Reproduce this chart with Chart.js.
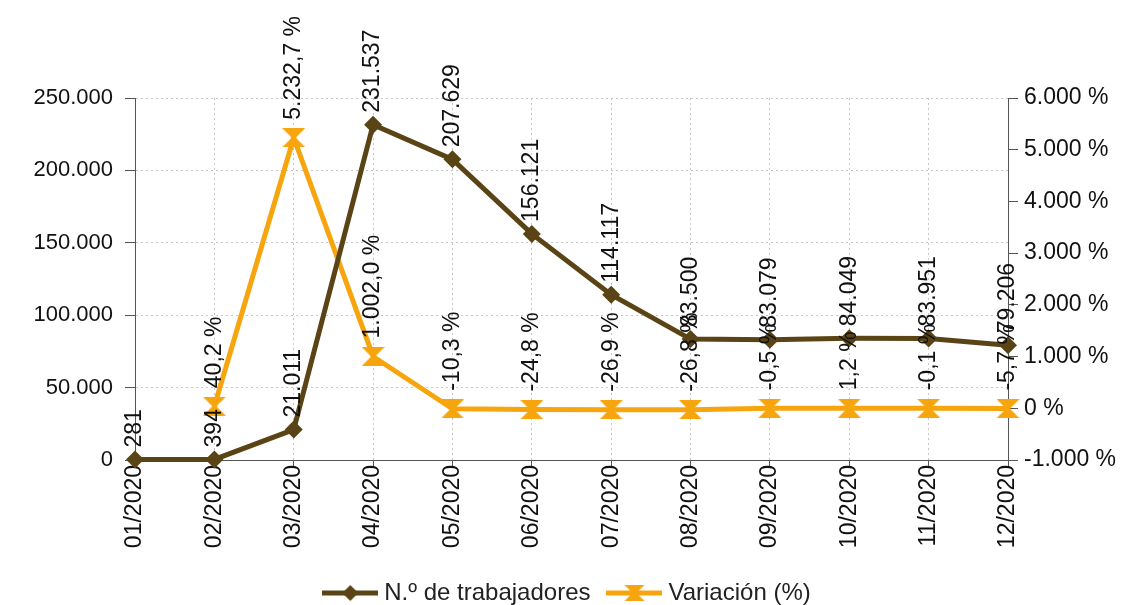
<!DOCTYPE html>
<html>
<head>
<meta charset="utf-8">
<script src="https://cdn.jsdelivr.net/npm/chart.js@4/dist/chart.umd.min.js"></script>
<style>
  html, body { margin: 0; padding: 0; background: #fff; }
  #caja { width: 1139px; height: 605px; }
</style>
</head>
<body>
<div id="caja"><canvas id="grafico"></canvas></div>
<script>
const meses = ['01/2020', '02/2020', '03/2020', '04/2020', '05/2020', '06/2020',
               '07/2020', '08/2020', '09/2020', '10/2020', '11/2020', '12/2020'];
const trabajadores = [281, 394, 21011, 231537, 207629, 156121, 114117, 83500, 83079, 84049, 83951, 79206];
const variacion = [null, 40.2, 5232.7, 1002.0, -10.3, -24.8, -26.9, -26.8, -0.5, 1.2, -0.1, -5.7];
const ticksIzq = [0, 50000, 100000, 150000, 200000, 250000];
const ticksDer = [-1000, 0, 1000, 2000, 3000, 4000, 5000, 6000];

const marron = '#5a4415';
const naranja = '#f7a50e';
const fuente = '"Liberation Sans", Arial, sans-serif';

const fmtMiles = new Intl.NumberFormat('de-DE');
const fmtPct = new Intl.NumberFormat('de-DE', { minimumFractionDigits: 1, maximumFractionDigits: 1 });

// marcador en forma de reloj de arena para la serie naranja
function reloj(w, h, color) {
  const c = document.createElement('canvas');
  c.width = w; c.height = h;
  const g = c.getContext('2d');
  g.fillStyle = color;
  g.beginPath();
  g.moveTo(0, 0); g.lineTo(w, 0); g.lineTo(w / 2 + 2, h / 2);
  g.lineTo(w, h); g.lineTo(0, h); g.lineTo(w / 2 - 2, h / 2);
  g.closePath();
  g.fill();
  return c;
}

// muestra de leyenda: linea con marcador en el centro
function muestra(color, tipo) {
  const w = 56, h = 22;
  const c = document.createElement('canvas');
  c.width = w; c.height = h;
  const g = c.getContext('2d');
  g.strokeStyle = color;
  g.lineWidth = 5;
  g.beginPath(); g.moveTo(0, h / 2); g.lineTo(w, h / 2); g.stroke();
  g.fillStyle = color;
  if (tipo === 'rombo') {
    g.beginPath();
    g.moveTo(w / 2, h / 2 - 8); g.lineTo(w / 2 + 8, h / 2);
    g.lineTo(w / 2, h / 2 + 8); g.lineTo(w / 2 - 8, h / 2);
    g.closePath(); g.fill();
  } else {
    g.drawImage(reloj(20, 16, color), w / 2 - 10, h / 2 - 8);
  }
  return c;
}

const muestras = [muestra(marron, 'rombo'), muestra(naranja, 'reloj')];
const desplazamiento = [12, 18];

// etiquetas de datos verticales sobre cada punto
const etiquetas = {
  id: 'etiquetas',
  afterDatasetsDraw(chart) {
    const ctx = chart.ctx;
    chart.data.datasets.forEach((ds, i) => {
      const meta = chart.getDatasetMeta(i);
      meta.data.forEach((pt, j) => {
        const v = ds.data[j];
        if (v === null) return;
        const txt = i === 0 ? fmtMiles.format(v) : fmtPct.format(v) + ' %';
        ctx.save();
        ctx.translate(pt.x, pt.y - desplazamiento[i]);
        ctx.rotate(-Math.PI / 2);
        ctx.font = '23px ' + fuente;
        ctx.fillStyle = '#111';
        ctx.textAlign = 'left';
        ctx.textBaseline = 'middle';
        ctx.fillText(txt, 0, 0);
        ctx.restore();
      });
    });
  }
};

new Chart(document.getElementById('grafico'), {
  type: 'line',
  data: {
    labels: meses,
    datasets: [{
      label: 'N.º de trabajadores',
      data: trabajadores,
      yAxisID: 'y',
      borderColor: marron,
      backgroundColor: marron,
      borderWidth: 5,
      pointStyle: 'rectRot',
      pointRadius: 9,
      pointBorderWidth: 0,
      tension: 0,
      clip: false
    },
    {
      label: 'Variación (%)',
      data: variacion,
      yAxisID: 'y1',
      borderColor: naranja,
      backgroundColor: naranja,
      borderWidth: 5,
      pointStyle: reloj(23, 19, naranja),
      tension: 0,
      clip: false
    }]
  },
  options: {
    responsive: true,
    maintainAspectRatio: false,
    animation: false,
    events: [],
    layout: { padding: { top: 98, left: 0, right: 0, bottom: -10 } },
    font: { family: fuente },
    plugins: {
      tooltip: { enabled: false },
      legend: {
        position: 'bottom',
        labels: {
          usePointStyle: true,
          pointStyleWidth: 44,
          padding: 22,
          color: '#222',
          font: { size: 24, family: fuente },
          generateLabels: chart => chart.data.datasets.map((ds, i) => ({
            text: ds.label,
            pointStyle: muestras[i],
            fillStyle: ds.borderColor,
            strokeStyle: ds.borderColor,
            lineWidth: 0,
            hidden: false,
            datasetIndex: i,
            fontColor: '#222'
          }))
        }
      }
    },
    scales: {
      x: {
        offset: false,
        grid: { color: '#c6c6c6', tickColor: '#555', tickLength: 8 },
        border: { color: '#555', dash: [2, 3] },
        ticks: {
          autoSkip: false, minRotation: 90, maxRotation: 90, padding: -3,
          color: '#111', font: { size: 23, family: fuente }
        },
        afterFit: s => { s.height = 99; }
      },
      y: {
        position: 'left',
        min: 0, max: 250000,
        grid: { color: '#c6c6c6', tickColor: '#555', tickLength: 10 },
        border: { color: '#555', dash: [2, 3] },
        ticks: {
          padding: 12, color: '#111', font: { size: 22, family: fuente },
          callback: v => fmtMiles.format(v)
        },
        afterBuildTicks: s => { s.ticks = ticksIzq.map(v => ({ value: v })); },
        afterFit: s => { s.width = 135; }
      },
      y1: {
        position: 'right',
        min: -1000, max: 6000,
        grid: { drawOnChartArea: false, tickColor: '#555', tickLength: 10 },
        border: { color: '#555' },
        ticks: {
          padding: 6, color: '#111', font: { size: 23, family: fuente },
          callback: v => fmtMiles.format(v) + ' %'
        },
        afterBuildTicks: s => { s.ticks = ticksDer.map(v => ({ value: v })); },
        afterFit: s => { s.width = 131; }
      }
    }
  },
  plugins: [etiquetas]
});
</script>
</body>
</html>
